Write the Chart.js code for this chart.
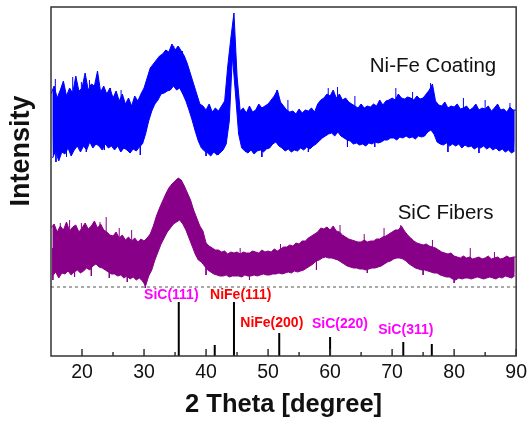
<!DOCTYPE html>
<html>
<head>
<meta charset="utf-8">
<script src="https://cdn.jsdelivr.net/npm/chart.js@4.4.0/dist/chart.umd.min.js"></script>
<style>
  html, body { margin: 0; padding: 0; background: #fff; }
  canvas { display: block; }
</style>
</head>
<body>
<canvas id="xrdChart" width="532" height="423"></canvas>
<script>
// 2-theta sampling of the traces (upper edge at xStart + i*step, lower edge at +step/2)
const xStart = 15;
const step = 0.5;

// Ni-Fe coating trace, upper and lower edge of the noise band
const coatingTop = [
  262, 270, 258, 266, 275, 260, 268, 263, 280, 265,
  268, 283, 266, 272, 270, 285, 264, 270, 262, 268,
  258, 265, 255, 262, 252, 258, 250, 260, 255, 262,
  268, 278, 288, 292, 296, 300, 302, 306, 304, 312,
  306, 310, 305, 300, 292, 282, 272, 262, 252, 250,
  246, 252, 244, 248, 245, 250, 255, 290, 318, 343,
  280, 245, 248, 243, 250, 244, 246, 252, 248, 250,
  252, 256, 260, 266, 254, 250, 246, 244, 245, 242,
  247, 243, 246, 245, 248, 244, 252, 256, 258, 262,
  260, 266, 258, 262, 256, 258, 254, 252, 250, 248,
  252, 248, 250, 249, 252, 250, 256, 251, 255, 256,
  258, 256, 262, 258, 257, 259, 258, 256, 260, 257,
  258, 262, 266, 272, 255, 251, 250, 254, 248, 250,
  249, 252, 247, 248, 250, 246, 248, 252, 246, 248,
  247, 250, 245, 248, 252, 246, 247, 244, 249, 246,
  246
];
const coatingBottom = [
  198, 205, 195, 204, 202, 208, 200, 206, 210, 204,
  210, 206, 214, 208, 212, 210, 206, 212, 208, 210,
  206, 210, 204, 208, 206, 203, 207, 205, 209, 212,
  222, 235, 245, 252, 256, 262, 263, 265, 266, 270,
  266, 268, 262, 255, 246, 236, 225, 215, 208, 205,
  203, 200, 204, 201, 203, 206, 212, 235, 300, 262,
  222, 208, 205, 203, 206, 202, 205, 206, 204, 207,
  208, 212, 214, 210, 208, 205, 207, 204, 206, 205,
  208, 206, 209, 207, 210, 212, 215, 218, 220, 222,
  223, 220, 224, 220, 218, 216, 215, 212, 213, 211,
  212, 210, 213, 212, 214, 213, 214, 216, 216, 218,
  218, 216, 219, 218, 220, 218, 219, 217, 220, 219,
  220, 224, 226, 222, 214, 212, 211, 213, 210, 212,
  210, 212, 208, 211, 209, 210, 207, 209, 208, 210,
  207, 209, 206, 208, 205, 207, 204, 206, 203, 205
];
// single noise spikes sticking out of the coating band
const coatingSpikeX = [15.7, 16.9, 18.5, 19.9, 21.2, 22.4, 24.6, 26.3, 33.6, 34.8, 36.2,
  51.4, 53.2, 59.7, 61.2, 64.0, 70.6, 73.3, 76.2, 81.5, 85.0, 89.0,
  15.8, 17.5, 20.7, 23.6, 27.8, 29.4, 40.0, 42.0, 49.0, 56.5, 62.8, 67.2, 79.0, 84.0, 89.4];
const coatingSpikeY = [277, 272, 279, 274, 276, 280, 268, 266, 306, 310, 305,
  266, 256, 268, 269, 260, 268, 264, 273, 258, 256, 253,
  194, 199, 204, 206, 203, 201, 200, 201, 199, 204, 209, 209, 204, 203, 204];

// SiC fibers trace
const fibersTop = [
  128, 132, 124, 130, 126, 134, 125, 129, 131, 124,
  128, 133, 127, 130, 135, 128, 132, 126, 124, 121,
  120, 124, 118, 121, 116, 119, 115, 118, 114, 117,
  115, 118, 122, 130, 140, 148, 155, 162, 168, 172,
  175, 178, 176, 170, 163, 156, 146, 138, 130, 125,
  113, 110, 108, 106, 106, 104, 105, 102, 104, 103,
  104, 102, 104, 103, 103, 105, 104, 103, 106, 104,
  105, 104, 107, 105, 107, 109, 109, 111, 110, 113,
  112, 115, 115, 118, 120, 122, 124, 128, 127, 129,
  126, 130, 125, 124, 121, 119, 117, 116, 115, 114,
  114, 116, 114, 115, 115, 117, 117, 119, 120, 122,
  124, 126, 126, 130, 125, 121, 118, 115, 113, 112,
  111, 112, 110, 109, 108, 106, 104, 103, 102, 103,
  100, 99, 98, 100, 98, 99, 97, 98, 99, 97,
  98, 100, 97, 98, 99, 97, 98, 100, 98, 99,
  99
];
const fibersBottom = [
  80, 84, 78, 83, 82, 85, 81, 84, 86, 83,
  85, 88, 86, 90, 92, 89, 88, 86, 84, 82,
  82, 80, 81, 78, 80, 77, 79, 76, 78, 75,
  70, 80, 86, 96, 104, 112, 118, 124, 128, 132,
  134, 136, 132, 126, 118, 110, 102, 96, 94, 90,
  86, 84, 82, 81, 80, 80, 81, 79, 80, 80,
  80, 79, 81, 80, 80, 81, 80, 81, 82, 81,
  81, 82, 82, 83, 82, 83, 84, 83, 85, 84,
  85, 86, 88, 90, 92, 95, 96, 98, 99, 98,
  98, 97, 96, 94, 92, 90, 89, 88, 88, 87,
  87, 86, 87, 88, 88, 89, 90, 92, 94, 95,
  97, 98, 98, 97, 95, 92, 90, 88, 87, 86,
  86, 85, 84, 83, 83, 81, 80, 79, 79, 77,
  76, 78, 77, 78, 78, 77, 78, 79, 78, 77,
  78, 79, 78, 77, 79, 78, 80, 79, 78, 80
];
const fibersSpikeX = [16.5, 18.0, 19.9, 22.9, 23.9, 26.0, 28.0, 45.5, 52.0, 59.4, 61.6,
  65.5, 68.7, 71.4, 76.5, 82.6, 86.5,
  15.3, 18.8, 21.5, 24.4, 27.3, 30.2, 40.0, 47.0, 57.8, 66.0, 75.0, 80.0, 84.9, 87.0];
const fibersSpikeY = [133, 136, 133, 134, 139, 128, 126, 108, 112, 129, 131,
  122, 128, 131, 116, 108, 104,
  76, 79, 80, 78, 74, 68, 81, 76, 86, 83, 81, 73, 78, 78];

// reference pattern sticks
const stickPos = [35.6, 41.4, 44.5, 51.8, 60.0, 71.8, 76.4];
const stickHeight = [54, 11, 54, 23, 19, 14, 12];
const baseline = 69;

// peak names: [text, x, y, colour]
const peakNames = [
  ['SiC(111)', 34.4, 61, '#ff00ff'],
  ['NiFe(111)', 45.6, 61, '#ff0000'],
  ['NiFe(200)', 50.6, 33, '#ff0000'],
  ['SiC(220)', 61.6, 32, '#ff00ff'],
  ['SiC(311)', 72.2, 26, '#ff00ff']
];
const seriesNames = [
  ['Ni-Fe Coating', 66.4, 290],
  ['SiC Fibers', 70.9, 143]
];

const xTicks = [20, 30, 40, 50, 60, 70, 80, 90];
const xMinor = [25, 35, 45, 55, 65, 75, 85];

function edge(vals, offset) {
    return vals.map(function(v, i) { return { x: xStart + offset + i * step, y: v }; });
}

// each spike runs from the middle of the band out to its tip
function spikes(xs, ys, top, bottom) {
    const pts = [];
    xs.forEach(function(x, k) {
        const i = Math.min(bottom.length - 1, Math.round((x - xStart) / step));
        pts.push({ x: x, y: (top[i] + bottom[i]) / 2 }, { x: x, y: ys[k] }, { x: x, y: null });
    });
    return pts;
}

const sticks = [];
stickPos.forEach(function(p, i) {
    sticks.push({ x: p, y: 0 }, { x: p, y: stickHeight[i] }, { x: p, y: null });
});

function trace(top, bottom, sx, sy, colour) {
    return [
        { data: edge(top, 0), showLine: true, borderColor: colour, backgroundColor: colour,
          borderWidth: 1, pointRadius: 0, fill: '+1' },
        { data: edge(bottom, step / 2), showLine: true, borderColor: colour,
          borderWidth: 1, pointRadius: 0, fill: false },
        { data: spikes(sx, sy, top, bottom), showLine: true, spanGaps: false,
          borderColor: colour, borderWidth: 1, pointRadius: 0, fill: false }
    ];
}

const decor = {
    id: 'decor',
    afterDatasetsDraw(chart) {
        const ctx = chart.ctx;
        const a = chart.chartArea;
        const xs = chart.scales.x;
        const ys = chart.scales.y;
        ctx.save();
        ctx.strokeStyle = '#333';
        ctx.lineWidth = 1.5;
        ctx.strokeRect(a.left, a.top, a.right - a.left, a.bottom - a.top);
        xTicks.forEach(function(v) {
            const px = xs.getPixelForValue(v);
            ctx.beginPath(); ctx.moveTo(px, a.bottom); ctx.lineTo(px, a.bottom - 7); ctx.stroke();
        });
        xMinor.forEach(function(v) {
            const px = xs.getPixelForValue(v);
            ctx.beginPath(); ctx.moveTo(px, a.bottom); ctx.lineTo(px, a.bottom - 4); ctx.stroke();
        });

        ctx.textAlign = 'center';
        ctx.textBaseline = 'middle';
        ctx.font = 'bold 14px "Liberation Sans", Arial, sans-serif';
        peakNames.forEach(function(p) {
            ctx.fillStyle = p[3];
            ctx.fillText(p[0], xs.getPixelForValue(p[1]), ys.getPixelForValue(p[2]));
        });

        ctx.textAlign = 'left';
        ctx.fillStyle = '#111';
        ctx.font = '20.5px "Liberation Sans", Arial, sans-serif';
        seriesNames.forEach(function(s) {
            ctx.fillText(s[0], xs.getPixelForValue(s[1]), ys.getPixelForValue(s[2]));
        });

        ctx.translate(22, 151);
        ctx.rotate(-Math.PI / 2);
        ctx.textAlign = 'center';
        ctx.font = 'bold 27px "Liberation Sans", Arial, sans-serif';
        ctx.fillText('Intensity', 0, 0);
        ctx.restore();
    }
};

new Chart(document.getElementById('xrdChart').getContext('2d'), {
    type: 'scatter',
    data: {
        datasets: trace(coatingTop, coatingBottom, coatingSpikeX, coatingSpikeY, '#0000ff')
            .concat(trace(fibersTop, fibersBottom, fibersSpikeX, fibersSpikeY, '#880088'))
            .concat([
                {
                    data: [{ x: 15, y: baseline }, { x: 90, y: baseline }],
                    showLine: true,
                    borderColor: '#555',
                    borderWidth: 1,
                    borderDash: [3, 3],
                    pointRadius: 0
                },
                {
                    data: sticks,
                    showLine: true,
                    spanGaps: false,
                    borderColor: '#000',
                    borderWidth: 2,
                    pointRadius: 0
                }
            ])
    },
    options: {
        responsive: false,
        animation: false,
        layout: { padding: { top: 7, right: 13, left: 0, bottom: 0 } },
        plugins: {
            legend: { display: false },
            tooltip: { enabled: false }
        },
        scales: {
            x: {
                type: 'linear',
                min: 15,
                max: 90,
                grid: { display: false, drawTicks: false },
                border: { display: false },
                ticks: {
                    stepSize: 10,
                    includeBounds: false,
                    padding: 5,
                    color: '#111',
                    font: { family: '"Liberation Sans", Arial, sans-serif', size: 19.5 },
                    maxRotation: 0
                },
                title: {
                    display: true,
                    text: '2 Theta [degree]',
                    color: '#111',
                    font: { family: '"Liberation Sans", Arial, sans-serif', size: 25.5, weight: 'bold' },
                    padding: { top: 0, bottom: 3 }
                },
                afterFit: function(s) { s.height = 67; }
            },
            y: {
                min: 0,
                max: 349,
                grid: { display: false, drawTicks: false },
                border: { display: false },
                ticks: { display: false },
                afterFit: function(s) { s.width = 51; }
            }
        }
    },
    plugins: [decor]
});
</script>
</body>
</html>
